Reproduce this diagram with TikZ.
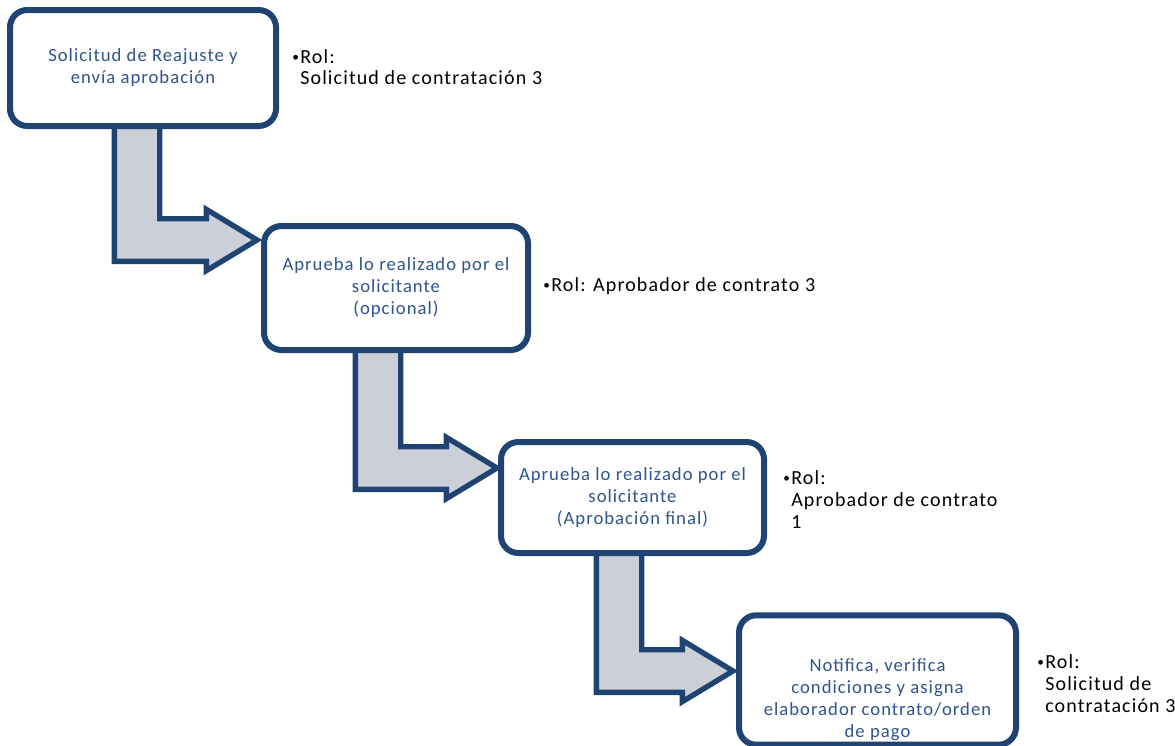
\documentclass[tikz,border=0pt]{standalone}
\usepackage{fontspec}
\setmainfont{Carlito}
\newfontfamily\boxfont[LetterSpace=5.5]{Carlito}
\newfontfamily\rolfont[LetterSpace=5.7]{Carlito}
\usetikzlibrary{calc}
\pgfdeclarelayer{background}
\pgfsetlayers{background,main}

\definecolor{boxline}{RGB}{31,67,115}
\definecolor{boxtext}{RGB}{47,85,140}
\definecolor{arrowfill}{RGB}{203,207,216}

\tikzset{
    stepbox/.style={draw=boxline, line width=4.5pt, fill=white, rounded corners=13pt,
        align=center, text=boxtext, font=\boxfont\fontsize{14}{16.5}\selectfont},
    flowarrow/.style={draw=boxline, line width=4pt, fill=arrowfill, line join=miter},
    rol/.style={anchor=base west, inner sep=0pt, align=left, font=\rolfont\fontsize{15}{16.5}\selectfont}
}

% bent block arrow: #1 source box, #2 stem offset from its left side, #3 tip
\newcommand{\stepArrow}[3]{%
    \draw[flowarrow] let \p1 = ($(#1.south west)+(#2,-3)$), \p2 = (#3) in
        (\x1-17pt,\y1) -- (\x1-17pt,\y2-16pt) -- (\x2-38pt,\y2-16pt) -- (\x2-38pt,\y2-23pt)
        -- (\p2) -- (\x2-38pt,\y2+23pt) -- (\x2-38pt,\y2+16pt) -- (\x1+17pt,\y2+16pt)
        -- (\x1+17pt,\y1) -- cycle;}
\newcommand{\rolitem}[1]{\makebox[6pt][l]{\raisebox{1pt}{\fontsize{10}{10}\selectfont\textbullet}}%
    \begin{tabular}[t]{@{}l@{}}#1\end{tabular}}

\begin{document}
\begin{tikzpicture}[x=0.75pt, y=-0.75pt]
    \useasboundingbox (0,0) rectangle (1175,746);

    \node[stepbox, minimum width=199.5pt, minimum height=87pt]     (b1) at (143,68)
        {Solicitud de Reajuste y\\envía aprobación};
    \node[stepbox, minimum width=198pt, minimum height=93pt]       (b2) at (396,288)
        {Aprueba lo realizado por el\\solicitante\\(opcional)};
    \node[stepbox, minimum width=197.25pt, minimum height=83.25pt] (b3) at (632.5,497.5)
        {Aprueba lo realizado por el\\solicitante\\(Aprobación final)};
    \node[stepbox, minimum width=207.75pt, minimum height=94.5pt]  (b4) at (877.5,680)
        {\\[22pt]Notifica, verifica\\condiciones y asigna\\elaborador contrato/orden\\de pago};

    \coordinate (tip1) at (257,240);
    \coordinate (tip2) at (497,468);
    \coordinate (tip3) at (733,671);

    \begin{pgfonlayer}{background}
        \stepArrow{b1}{130}{tip1}
        \stepArrow{b2}{117}{tip2}
        \stepArrow{b3}{121}{tip3}
    \end{pgfonlayer}

    \node[rol] (r1) at (292,63)   {\rolitem{Rol:\\Solicitud de contratación 3}};
    \node[rol] (r2) at (543,291)  {\rolitem{Rol: Aprobador de contrato 3}};
    \node[rol] (r3) at (783,484)  {\rolitem{Rol:\\Aprobador de contrato\\1}};
    \node[rol] (r4) at (1037,668) {\rolitem{Rol:\\Solicitud de\\contratación 3}};
\end{tikzpicture}
\end{document}
